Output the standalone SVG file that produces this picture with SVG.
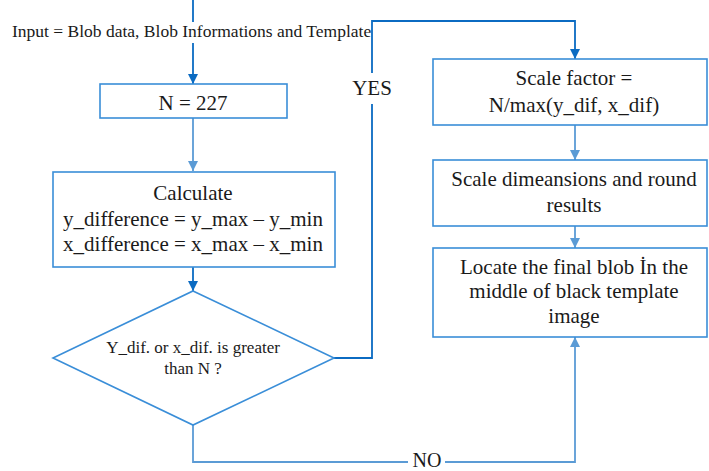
<svg xmlns="http://www.w3.org/2000/svg" width="709" height="471" viewBox="0 0 709 471">
<style>
.box{fill:#fff;stroke:#3A8ED8;stroke-width:1.6}
.t{font-family:"Liberation Serif","Times New Roman",serif;fill:#1a1a1a;text-anchor:middle;font-size:21px}
.s{font-size:17px}
.dk{fill:none;stroke:#0B6BC2;stroke-width:1.8}
.lt{fill:none;stroke:#5B9BD5;stroke-width:1.8}
</style>
<defs>
<marker id="ad" markerWidth="10" markerHeight="10" refX="10" refY="5" orient="auto" markerUnits="userSpaceOnUse"><path d="M0,0 L10,5 L0,10 z" fill="#0B6BC2"/></marker>
<marker id="al" markerWidth="10" markerHeight="10" refX="10" refY="5" orient="auto" markerUnits="userSpaceOnUse"><path d="M0,0 L10,5 L0,10 z" fill="#5B9BD5"/></marker>
</defs>
<rect width="709" height="471" fill="#fff"/>
<g id="connectors">
<path class="dk" d="M193,0 V22"/>
<path class="dk" d="M193,43 V84" marker-end="url(#ad)"/>
<path class="lt" d="M193,118 V171" marker-end="url(#al)"/>
<path class="dk" d="M193,267 V291" marker-end="url(#ad)"/>
<path class="dk" d="M334,358 H372 V104"/>
<path class="dk" d="M372,73 V21 H575 V59" marker-end="url(#ad)"/>
<path class="lt" d="M575,125 V160" marker-end="url(#al)"/>
<path class="lt" d="M575,226 V248" marker-end="url(#al)"/>
<path class="lt" d="M193,425 V462 H408"/>
<path class="lt" d="M445,462 H575 V337" marker-end="url(#al)"/>
<text class="t" x="372" y="95">YES</text>
<text class="t" x="427" y="467" style="font-size:20px">NO</text>
</g>
<g id="input">
<text class="t" x="12" y="37" style="text-anchor:start;font-size:17.5px">Input = Blob data, Blob Informations and Template</text>
</g>
<g id="n227">
<rect class="box" x="100" y="84" width="187" height="34"/>
<text class="t" x="193" y="110">N = 227</text>
</g>
<g id="calculate">
<rect class="box" x="53" y="172" width="282" height="95"/>
<text class="t" x="193" y="200">Calculate</text>
<text class="t" x="193" y="226">y_difference = y_max – y_min</text>
<text class="t" x="193" y="251">x_difference = x_max – x_min</text>
</g>
<g id="decision">
<polygon class="box" points="193,291 334,358 193,425 53,358"/>
<text class="t s" x="193" y="353">Y_dif. or x_dif. is greater</text>
<text class="t s" x="193" y="374">than N ?</text>
</g>
<g id="scalefactor">
<rect class="box" x="433" y="59" width="274" height="66"/>
<text class="t" x="574" y="85">Scale factor =</text>
<text class="t" x="574" y="112">N/max(y_dif, x_dif)</text>
</g>
<g id="scaledim">
<rect class="box" x="433" y="160" width="274" height="66"/>
<text class="t" x="574" y="186">Scale dimeansions and round</text>
<text class="t" x="574" y="212">results</text>
</g>
<g id="locate">
<rect class="box" x="433" y="248" width="274" height="89"/>
<text class="t" x="574" y="274">Locate the final blob İn the</text>
<text class="t" x="574" y="298">middle of black template</text>
<text class="t" x="574" y="323">image</text>
</g>
</svg>
